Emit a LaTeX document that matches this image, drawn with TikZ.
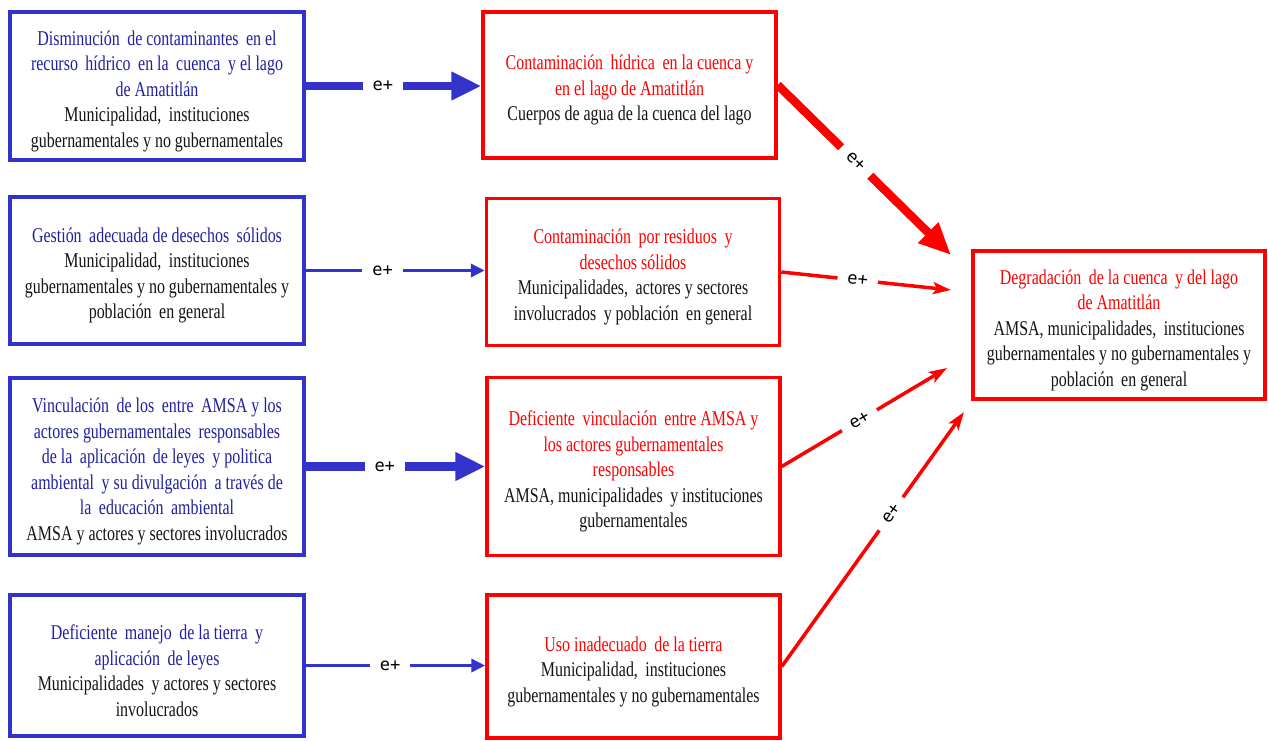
\documentclass[tikz,border=0pt]{standalone}
\usepackage{fontspec}
\setmainfont{Liberation Serif}[FakeStretch=0.76]
\newfontfamily\labfont{DejaVu Sans Mono}
\usetikzlibrary{arrows.meta}
\definecolor{bboxc}{RGB}{51,51,204}
\definecolor{btext}{RGB}{32,32,160}
\definecolor{rboxc}{RGB}{255,0,0}
\definecolor{ktext}{RGB}{20,20,20}
\newcommand\bl[1]{\textcolor{btext}{#1}}
\newcommand\rd[1]{\textcolor{rboxc}{#1}}
\begin{document}
\begin{tikzpicture}[x=1pt,y=-1pt,
  box/.style={draw, line width=3.5pt, inner sep=0pt},
  bluebox/.style={box, draw=bboxc, minimum width=294pt},
  redbox/.style={box, draw=rboxc, minimum width=293pt},
  txt/.style={align=center, inner sep=0pt, text=ktext,
    font=\fontsize{21}{25.5}\selectfont},
  bthick/.style={draw=bboxc, line width=8.5pt, -{Triangle[length=30pt,width=27pt]}},
  bthin/.style={draw=bboxc, line width=3.5pt, -{Triangle[length=14pt,width=13pt]}},
  rthick/.style={draw=rboxc, line width=8.5pt, -{Triangle[length=32pt,width=27pt]}},
  rthin/.style={draw=rboxc, line width=3.5pt, -{Stealth[length=18pt,width=12pt,inset=4pt]}},
  elab/.style={fill=white, inner xsep=10pt, inner ysep=3pt, text=black,
    font=\labfont\fontsize{17}{17}\selectfont}
]
\useasboundingbox[fill=white] (0,0) rectangle (1268,740);

% left (blue) boxes
\node[bluebox, minimum height=148pt] (L1) at (157,86) {};
\node[txt, yshift=-5pt] (tL1) at (L1.center)
  {\bl{Disminución\, de contaminantes\, en el}\\
   \bl{recurso\, hídrico\, en la\, cuenca\, y el lago}\\
   \bl{de Amatitlán}\\
   Municipalidad,\, instituciones\\
   gubernamentales y no gubernamentales};
\node[bluebox, minimum height=147pt] (L2) at (157,270.5) {};
\node[txt, yshift=-5pt] (tL2) at (L2.center)
  {\bl{Gestión\, adecuada de desechos\, sólidos}\\
   Municipalidad,\, instituciones\\
   gubernamentales y no gubernamentales y\\
   población\, en general};
\node[bluebox, minimum height=177pt] (L3) at (157,466.5) {};
\node[txt, yshift=-5pt] (tL3) at (L3.center)
  {\bl{Vinculación\, de los\, entre\, AMSA y los}\\
   \bl{actores gubernamentales\, responsables}\\
   \bl{de la\, aplicación\, de leyes\, y politica}\\
   \bl{ambiental\, y su divulgación\, a través de}\\
   \bl{la\, educación\, ambiental}\\
   AMSA y actores y sectores involucrados};
\node[bluebox, minimum height=141pt] (L4) at (157,665.5) {};
\node[txt, yshift=-5pt] (tL4) at (L4.center)
  {\bl{Deficiente\, manejo\, de la tierra\, y}\\
   \bl{aplicación\, de leyes}\\
   Municipalidades\, y actores y sectores\\
   involucrados};

% middle (red) boxes
\node[redbox, minimum height=146pt] (M1) at (629.5,85) {};
\node[txt, yshift=-5pt] (tM1) at (M1.center)
  {\rd{Contaminación\, hídrica\, en la cuenca y}\\
   \rd{en el lago de Amatitlán}\\
   Cuerpos de agua de la cuenca del lago};
\node[redbox, minimum height=147pt] (M2) at (633,272) {};
\node[txt, yshift=-5pt] (tM2) at (M2.center)
  {\rd{Contaminación\, por residuos\, y}\\
   \rd{desechos sólidos}\\
   Municipalidades,\, actores y sectores\\
   involucrados\, y población\, en general};
\node[redbox, minimum height=178pt] (M3) at (633.5,466.5) {};
\node[txt, yshift=-5pt] (tM3) at (M3.center)
  {\rd{Deficiente\, vinculación\, entre AMSA y}\\
   \rd{los actores gubernamentales}\\
   \rd{responsables}\\
   AMSA, municipalidades\, y instituciones\\
   gubernamentales};
\node[redbox, minimum height=143pt] (M4) at (633.5,666.5) {};
\node[txt, yshift=-5pt] (tM4) at (M4.center)
  {\rd{Uso inadecuado\, de la tierra}\\
   Municipalidad,\, instituciones\\
   gubernamentales y no gubernamentales};

% right box
\node[redbox, minimum width=292pt, minimum height=148pt] (R) at (1119,325) {};
\node[txt, yshift=-5pt] (tR) at (R.center)
  {\rd{Degradación\, de la cuenca\, y del lago}\\
   \rd{de Amatitlán}\\
   AMSA, municipalidades,\, instituciones\\
   gubernamentales y no gubernamentales y\\
   población\, en general};

% free ends near the right box
\coordinate (r1) at (951,255);
\coordinate (r2) at (951,290);
\coordinate (r3) at (947,368);
\coordinate (r4) at (964,412);

% blue connectors
\draw[bthick] (L1.east) -- (L1.east -| M1.west) node[elab, pos=0.44] {e+};
\draw[bthin]  (L2.east) -- (L2.east -| M2.west) node[elab, pos=0.43] {e+};
\draw[bthick] (L3.east) -- (L3.east -| M3.west) node[elab, pos=0.44] {e+};
\draw[bthin]  (L4.east) -- (L4.east -| M4.west) node[elab, pos=0.47] {e+};

% red connectors
\draw[rthick] (M1.east) -- (r1) node[elab, sloped, pos=0.45] {e+};
\draw[rthin]  (M2.east) -- (r2) node[elab, sloped, pos=0.45] {e+};
\draw[rthin]  (M3.east) -- (r3) node[elab, sloped, pos=0.47] {e+};
\draw[rthin]  (M4.east) -- (r4) node[elab, sloped, pos=0.6] {e+};
\end{tikzpicture}
\end{document}
